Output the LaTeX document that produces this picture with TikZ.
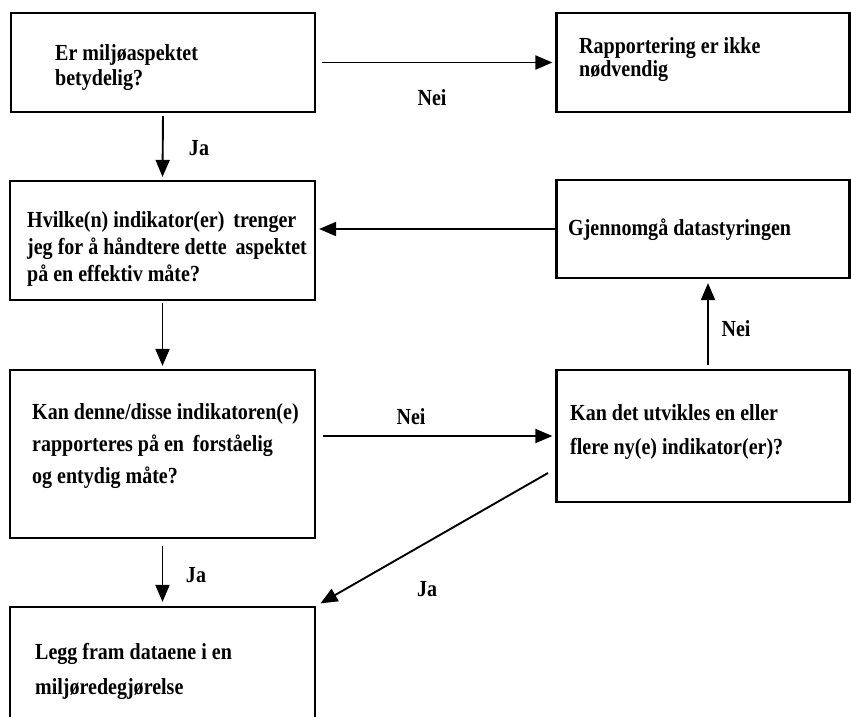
\documentclass[tikz,border=0pt]{standalone}
\usepackage{fontspec}
\usepackage{tikz}
\usetikzlibrary{arrows.meta, positioning}
\newfontfamily\flowfont{Liberation Serif}[FakeStretch=0.87]
\definecolor{inkblack}{HTML}{000000}

\begin{document}
\begin{tikzpicture}[x=1pt, y=-1pt,
    flowbox/.style={draw=inkblack, line width=2.2pt, rectangle, inner sep=0pt},
    flowtext/.style={anchor=base west, align=left, inner sep=0pt,
        font=\flowfont\bfseries\fontsize{23}{25}\selectfont},
    answer/.style={inner sep=0pt, font=\flowfont\bfseries\fontsize{23}{25}\selectfont},
    flowarrow/.style={draw=inkblack, line width=1.9pt,
        -{Triangle[length=17pt, width=14pt]}, shorten >=3pt}]
    % Page and clipping
    \clip (0,0) rectangle (851,717);
    \fill[white] (0,0) rectangle (851,717);

    % Draw boxes
    \node[flowbox, minimum width=304pt, minimum height=99pt] (aspect) at (163,62.5) {};
    \node[flowbox, minimum width=293pt, minimum height=99pt] (noreport) at (703,62.5) {};
    \node[flowbox, minimum width=305pt, minimum height=119pt] (choose) at (162.5,240.5) {};
    \node[flowbox, minimum width=293pt, minimum height=98pt] (review) at (703,229) {};
    \node[flowbox, minimum width=305pt, minimum height=168pt] (clear) at (162.5,454) {};
    \node[flowbox, minimum width=293pt, minimum height=132pt] (develop) at (703,436) {};
    \node[flowbox, minimum width=305pt, minimum height=153pt] (present) at (162.5,683.5) {};

    % Box texts (anchored at the baseline of the last line)
    \node[flowtext] (aspectText) at (55,85) {Er miljøaspektet\\betydelig?};
    \node[flowtext] (noreportText) at (579,77) {Rapportering er ikke\\[-2pt]nødvendig};
    \node[flowtext] (chooseText) at (27,281)
        {Hvilke(n) indikator(er) \,trenger\\[2pt]jeg for å håndtere dette \,aspektet\\[2pt]på en effektiv måte?};
    \node[flowtext] (reviewText) at (568,235) {Gjennomgå datastyringen};
    \node[flowtext] (clearText) at (32,483)
        {Kan denne/disse indikatoren(e)\\[7pt]rapporteres på en \,forståelig\\[7pt]og entydig måte?};
    \node[flowtext] (developText) at (570,454) {Kan det utvikles en eller\\[9pt]flere ny(e) indikator(er)?};
    \node[flowtext] (presentText) at (35,694) {Legg fram dataene i en\\[10pt]miljøredegjørelse};

    % Connectors
    \coordinate (jaStart) at (548,473);
    \draw[flowarrow, shorten <=6pt] (aspect.east) -- (noreport.west);
    \draw[flowarrow, shorten <=3pt] (aspect.south) -- (choose.north);
    \draw[flowarrow] (review.west) -- (review.west -| choose.east);
    \draw[flowarrow, shorten <=2pt] (choose.south) -- (clear.north);
    \draw[flowarrow, shorten <=4pt, shorten >=4pt]
        ([xshift=5pt]develop.north) -- ([xshift=5pt]develop.north |- review.south);
    \draw[flowarrow, shorten <=7pt] (develop.west -| clear.east) -- (develop.west);
    \draw[flowarrow, shorten <=7pt, shorten >=4pt] (clear.south) -- (present.north);
    \draw[flowarrow, shorten >=5pt] (jaStart) -- (present.north east);

    % Answer labels
    \node[answer] (neiTop) at (432,98) {Nei};
    \node[answer] (jaTop) at (199,148) {Ja};
    \node[answer] (neiUp) at (736,329) {Nei};
    \node[answer] (neiMid) at (411,417) {Nei};
    \node[answer] (jaDown) at (196,575) {Ja};
    \node[answer] (jaDiag) at (427,589) {Ja};
\end{tikzpicture}
\end{document}
